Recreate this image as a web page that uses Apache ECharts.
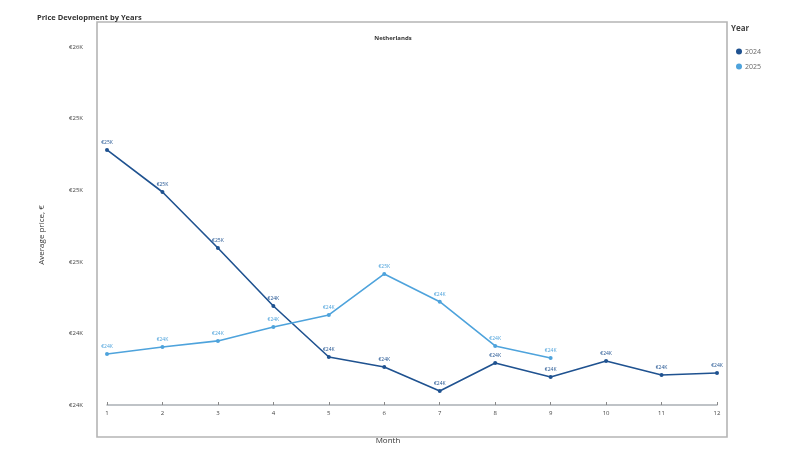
<!DOCTYPE html>
<html><head><meta charset="utf-8">
<script src="https://cdn.jsdelivr.net/npm/echarts@6/dist/echarts.min.js"></script>
<style>html,body{margin:0;padding:0;background:#fff}#c{width:800px;height:451px}</style>
</head><body><div id="c"></div>
<script>
const months = ['1','2','3','4','5','6','7','8','9','10','11','12'];
const seriesNames = ['2024','2025'];
const values2024 = [25225, 24990, 24677, 24353, 24068, 24012, 23878, 24035, 23956, 24046, 23968, 23979];
const values2025 = [24085, 24124, 24158, 24236, 24303, 24532, 24377, 24130, 24063];
const yMin = 23800, yMax = 25800, yStep = 400;

const colors = ['#1f5290', '#4ea3dc'];
const fmt = v => '€' + Math.round(v / 1000) + 'K';
const font = '"Open Sans", sans-serif';

const chart = echarts.init(document.getElementById('c'));
function mkSeries(name, data, color) {
  return {
    name, type: 'line', data,
    symbol: 'circle', symbolSize: 4,
    lineStyle: { width: 1.6, color },
    itemStyle: { color },
    label: { show: true, position: 'top', distance: 3, fontSize: 5, color, fontFamily: font,
      formatter: p => fmt(p.value) },
    emphasis: { disabled: true }
  };
}
chart.setOption({
  animation: false,
  textStyle: { fontFamily: font },
  title: [
    { text: 'Price Development by Years', left: 32, top: 9,
      textStyle: { fontSize: 7.5, fontWeight: 'bold', color: '#333', fontFamily: font } },
    { text: 'Netherlands', left: 388, top: 30, textAlign: 'center',
      textStyle: { fontSize: 6, fontWeight: 'bold', color: '#333', fontFamily: font } }
  ],
  legend: {
    data: seriesNames, orient: 'vertical', left: 731, top: 43,
    icon: 'circle', itemWidth: 6, itemHeight: 6, itemGap: 8,
    textStyle: { fontSize: 7, color: '#666', fontFamily: font, padding: [0, 0, 0, -2] }
  },
  grid: { left: 107, right: 83, top: 47, bottom: 46, containLabel: false },
  xAxis: {
    type: 'category', data: months, boundaryGap: false,
    axisLine: { lineStyle: { color: '#aab0b5', width: 1.5 } },
    axisTick: { inside: true, length: 3, alignWithLabel: true, lineStyle: { color: '#888' } },
    axisLabel: { fontSize: 6, color: '#444', margin: 5, fontFamily: font },
    splitLine: { show: false }
  },
  yAxis: {
    type: 'value', min: yMin, max: yMax, interval: yStep,
    axisLine: { show: false }, axisTick: { show: false },
    axisLabel: { fontSize: 6, color: '#444', margin: 24, formatter: fmt, fontFamily: font },
    splitLine: { show: false }
  },
  graphic: [
    { type: 'rect', shape: { x: 97, y: 22, width: 630, height: 415 },
      style: { fill: 'none', stroke: '#b5b5b5', lineWidth: 1.6 }, silent: true },
    { type: 'text', left: 731, top: 25,
      style: { text: 'Year', fill: '#444', font: 'bold 8px "Open Sans", sans-serif' } },
    { type: 'text', x: 388, y: 441,
      style: { text: 'Month', fill: '#333', textAlign: 'center', textVerticalAlign: 'middle', font: '8px "Open Sans", sans-serif' } },
    { type: 'text', x: 42, y: 235, rotation: Math.PI / 2,
      style: { text: 'Average price, €', fill: '#333', textAlign: 'center', textVerticalAlign: 'middle', font: '8px "Open Sans", sans-serif' } }
  ],
  series: [
    mkSeries(seriesNames[0], values2024, colors[0]),
    mkSeries(seriesNames[1], values2025, colors[1])
  ]
});
</script></body></html>
